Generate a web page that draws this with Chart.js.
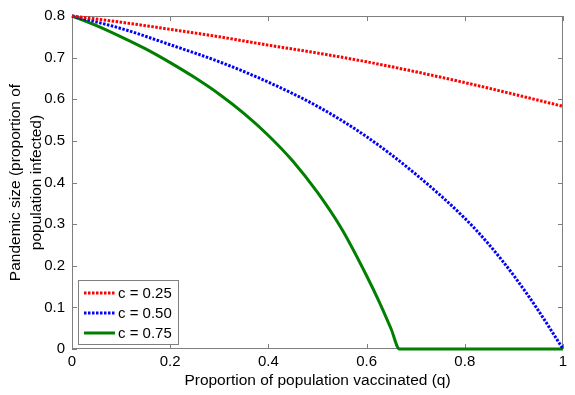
<!DOCTYPE html>
<html>
<head>
<meta charset="utf-8">
<script src="https://cdn.jsdelivr.net/npm/chart.js@4.4.1/dist/chart.umd.min.js"></script>
<style>
  html, body { margin: 0; padding: 0; background: #fff; }
  canvas { display: block; }
</style>
</head>
<body>
<canvas id="pandemicChart" width="575" height="395"></canvas>
<script>
// Values
const seriesLabels = ['c = 0.25', 'c = 0.50', 'c = 0.75'];

const qC025 = [0, 0.1, 0.2, 0.3, 0.4, 0.5, 0.6, 0.7, 0.8, 0.9, 1.0];
const sizeC025 = [0.800, 0.785, 0.768, 0.750, 0.730, 0.711, 0.690, 0.666, 0.640, 0.612, 0.583];

const qC050 = [0, 0.1, 0.2, 0.3, 0.4, 0.5, 0.6, 0.7, 0.8, 0.85, 0.9, 0.95, 1.0];
const sizeC050 = [0.800, 0.770, 0.731, 0.690, 0.641, 0.583, 0.510, 0.420, 0.314, 0.250, 0.176, 0.092, 0.0];

const qC075 = [0, 0.05, 0.1, 0.15, 0.2, 0.25, 0.3, 0.35, 0.4, 0.45, 0.5, 0.55, 0.6, 0.625, 0.65, 0.667, 0.8, 1.0];
const sizeC075 = [0.800, 0.777, 0.750, 0.721, 0.688, 0.652, 0.612, 0.566, 0.513, 0.451, 0.376, 0.287, 0.176, 0.115, 0.048, 0.0, 0.0, 0.0];

const xTicks = [0, 0.2, 0.4, 0.6, 0.8, 1];
const yTicks = [0, 0.1, 0.2, 0.3, 0.4, 0.5, 0.6, 0.7, 0.8];

const FONT = 'Liberation Sans, Arial, Helvetica, sans-serif';
const AXIS_GREY = '#7f7f7f';

function toPoints(xs, ys) {
    return xs.map((x, i) => ({ x: x, y: ys[i] }));
}

function tickLabel(value) {
    return String(Number(value.toFixed(2)));
}

// MATLAB-style box with inward ticks, plus the legend inside the axes
const matlabFrame = {
    id: 'matlabFrame',
    beforeDatasetsDraw(chart) {
        const { ctx, chartArea: a, scales: { x, y } } = chart;
        ctx.save();
        ctx.strokeStyle = AXIS_GREY;
        ctx.lineWidth = 1;
        ctx.strokeRect(a.left + 0.5, a.top + 0.5, a.right - a.left - 1, a.bottom - a.top - 1);
        ctx.beginPath();
        xTicks.forEach(v => {
            const px = Math.round(x.getPixelForValue(v)) + 0.5;
            ctx.moveTo(px, a.bottom);
            ctx.lineTo(px, a.bottom - 5);
            ctx.moveTo(px, a.top);
            ctx.lineTo(px, a.top + 5);
        });
        yTicks.forEach(v => {
            const py = Math.round(y.getPixelForValue(v)) + 0.5;
            ctx.moveTo(a.left, py);
            ctx.lineTo(a.left + 5, py);
            ctx.moveTo(a.right, py);
            ctx.lineTo(a.right - 5, py);
        });
        ctx.stroke();
        ctx.restore();
    },
    afterDatasetsDraw(chart) {
        const { ctx, chartArea: a } = chart;
        const boxW = 100, boxH = 64;
        const bx = a.left + 6, by = a.bottom - 5 - boxH;
        ctx.save();
        ctx.fillStyle = '#fff';
        ctx.fillRect(bx, by, boxW, boxH);
        ctx.strokeStyle = AXIS_GREY;
        ctx.lineWidth = 1;
        ctx.strokeRect(bx + 0.5, by + 0.5, boxW, boxH);
        ctx.font = '15px ' + FONT;
        ctx.textBaseline = 'middle';
        chart.data.datasets.forEach((ds, i) => {
            const ly = by + 13 + i * 20;
            ctx.beginPath();
            ctx.strokeStyle = ds.borderColor;
            ctx.lineWidth = ds.borderWidth;
            ctx.setLineDash(ds.borderDash || []);
            ctx.moveTo(bx + 6, ly);
            ctx.lineTo(bx + 37, ly);
            ctx.stroke();
            ctx.setLineDash([]);
            ctx.fillStyle = '#000';
            ctx.fillText(ds.label, bx + 40, ly + 1);
        });
        ctx.restore();
    }
};

const ctx = document.getElementById('pandemicChart').getContext('2d');

new Chart(ctx, {
    type: 'line',
    data: {
        datasets: [{
            label: seriesLabels[0],
            data: toPoints(qC025, sizeC025),
            borderColor: '#ff0000',
            borderWidth: 3,
            borderDash: [2.5, 1.5]
        }, {
            label: seriesLabels[1],
            data: toPoints(qC050, sizeC050),
            borderColor: '#0000ff',
            borderWidth: 3,
            borderDash: [2.5, 1.5]
        }, {
            label: seriesLabels[2],
            data: toPoints(qC075, sizeC075),
            borderColor: '#007f00',
            borderWidth: 3
        }].map(ds => Object.assign(ds, {
            pointRadius: 0,
            fill: false,
            cubicInterpolationMode: 'monotone',
            clip: false
        }))
    },
    options: {
        responsive: false,
        animation: false,
        layout: { padding: { top: 14, right: 12, left: 0, bottom: 0 } },
        plugins: {
            legend: { display: false },
            tooltip: { enabled: false }
        },
        scales: {
            x: {
                type: 'linear',
                min: 0,
                max: 1,
                afterBuildTicks: scale => { scale.ticks = xTicks.map(v => ({ value: v })); },
                afterFit: scale => { scale.height = 46; },
                grid: { display: false, drawTicks: false },
                border: { display: false },
                ticks: {
                    padding: 4,
                    color: '#000',
                    font: { family: FONT, size: 15 },
                    callback: tickLabel
                },
                title: {
                    display: true,
                    text: 'Proportion of population vaccinated (q)',
                    color: '#000',
                    font: { family: FONT, size: 15.5 },
                    padding: { top: 0, bottom: 5 }
                }
            },
            y: {
                type: 'linear',
                min: 0,
                max: 0.8,
                afterBuildTicks: scale => { scale.ticks = yTicks.map(v => ({ value: v })); },
                afterFit: scale => { scale.width = 72; },
                grid: { display: false, drawTicks: false },
                border: { display: false },
                ticks: {
                    padding: 7,
                    color: '#000',
                    font: { family: FONT, size: 15 },
                    callback: tickLabel
                },
                title: {
                    display: true,
                    text: ['Pandemic size (proportion of', 'population infected)'],
                    color: '#000',
                    font: { family: FONT, size: 15.5, lineHeight: 1.3 },
                    padding: { top: 6, bottom: 0 }
                }
            }
        }
    },
    plugins: [matlabFrame]
});
</script>
</body>
</html>
